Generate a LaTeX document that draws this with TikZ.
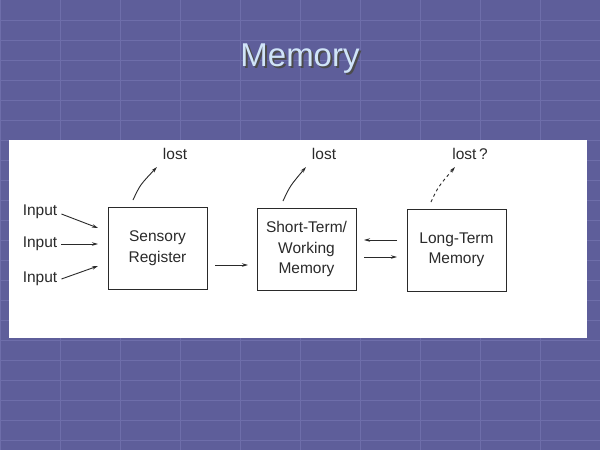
\documentclass[tikz,border=0pt]{standalone}
\usepackage{fontspec}
\setmainfont{Liberation Sans}
\usetikzlibrary{arrows.meta}
\definecolor{bg}{HTML}{5E5E9A}
\definecolor{gridc}{HTML}{6E6EAA}
\definecolor{titlec}{HTML}{D0E4F8}
\definecolor{ink}{HTML}{2A2A2A}
\begin{document}
\begin{tikzpicture}[x=1pt,y=-1pt,
  boxst/.style={draw=ink,line width=1pt,minimum width=99pt,minimum height=82pt,inner sep=0pt,align=center,font=\fontsize{15.5}{20.5}\selectfont,text=ink},
  lbl/.style={font=\fontsize{15.5}{19}\selectfont,text=ink,inner sep=1pt},
  arr/.style={-{Stealth[length=6pt,width=3.5pt]},draw=ink,line width=0.9pt}]
\fill[bg] (0,0) rectangle (600,450);
\useasboundingbox (0,0) rectangle (600,450);
\foreach \y in {20,40,...,440} \draw[gridc,line width=0.6pt] (0,\y) -- (600,\y);
\foreach \x in {0,60,...,600} \draw[gridc,line width=0.4pt] (\x,0) -- (\x,450);
\node[font=\fontsize{33}{38}\selectfont,text=black!70] at (302,61) {Memory};
\node (title) [font=\fontsize{33}{38}\selectfont,text=titlec] at (300,59) {Memory};
\fill[white] (9,140) rectangle (587,338);
\node (sr) [boxst] at (157.5,248) {Sensory\\Register};
\node (stm) [boxst] at (306.5,249) {Short-Term/\\Working\\Memory};
\node (ltm) [boxst] at (456.5,250) {Long-Term\\Memory};
\node (i1) [lbl] at (40,212) {Input};
\node (i2) [lbl] at (40,244) {Input};
\node (i3) [lbl] at (40,279) {Input};
\node (l1) [lbl] at (175,154) {lost};
\node (l2) [lbl] at (324,154) {lost};
\node (l3) [lbl] at (470,154) {lost\,?};
\coordinate (a1) at (98,228);
\coordinate (a2) at (98,244);
\coordinate (a3) at (98,266);
\draw[arr] (i1.east) ++(3,2) -- (a1);
\draw[arr] (i2.east) ++(3,0) -- (a2);
\draw[arr] (i3.east) ++(3,0) -- (a3);
\coordinate (s1) at (215,265); \coordinate (s2) at (248,265);
\draw[arr] (s1) -- (s2);
\coordinate (b1) at (397,240); \coordinate (b2) at (364,240);
\draw[arr] (b1) -- (b2);
\coordinate (c1) at (364,257); \coordinate (c2) at (397,257);
\draw[arr] (c1) -- (c2);
\coordinate (u1) at (133,200); \coordinate (v1) at (157,167);
\draw[arr] (u1) .. controls (140,185) .. (v1);
\coordinate (u2) at (283,201); \coordinate (v2) at (306,167);
\draw[arr] (u2) .. controls (290,186) .. (v2);
\coordinate (u3) at (431,202); \coordinate (v3) at (455,167);
\draw[arr,dashed,dash pattern=on 3pt off 3pt] (u3) .. controls (438,187) .. (v3);
\end{tikzpicture}
\end{document}
